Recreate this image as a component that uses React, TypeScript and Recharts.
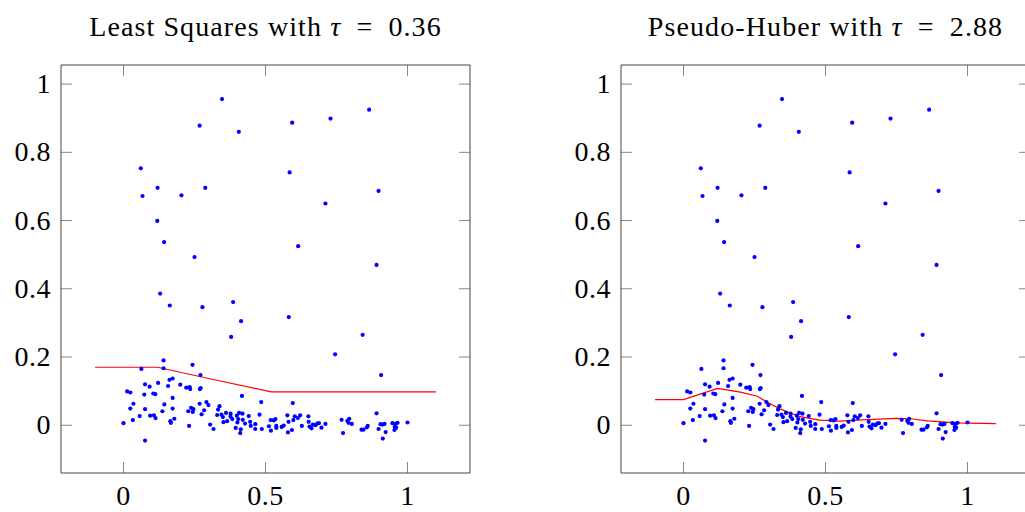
import React from 'react';
import { ScatterChart, Scatter, XAxis, YAxis, ReferenceLine } from 'recharts';

// observed samples (same in both panels)
const samplePoints: [number, number][] = [
  [0.347, 0.956], [0.268, 0.878], [0.406, 0.86], [0.061, 0.753], [0.585, 0.741],
  [0.12, 0.696], [0.067, 0.672], [0.204, 0.674], [0.288, 0.696], [0.119, 0.599],
  [0.594, 0.887], [0.729, 0.899], [0.865, 0.925], [0.898, 0.687], [0.711, 0.65],
  [0.143, 0.537], [0.25, 0.493], [0.129, 0.386], [0.163, 0.351], [0.278, 0.346],
  [0.386, 0.361], [0.414, 0.305], [0.582, 0.317], [0.379, 0.259], [0.615, 0.525],
  [0.891, 0.47], [0.842, 0.265], [0.745, 0.208], [0.907, 0.147],
  [0.141, 0.19], [0.243, 0.177], [0.063, 0.165], [0.141, 0.167], [0.271, 0.147],
  [0.076, 0.12], [0.092, 0.113], [0.122, 0.124], [0.162, 0.133], [0.173, 0.137],
  [0.157, 0.115], [0.2, 0.119], [0.221, 0.11], [0.233, 0.112], [0.235, 0.106],
  [0.272, 0.109], [0.269, 0.106], [0.013, 0.099], [0.024, 0.096], [0.073, 0.09],
  [0.105, 0.093], [0.112, 0.091], [0.173, 0.08], [0.035, 0.063], [0.024, 0.049],
  [0.076, 0.047], [0.144, 0.061], [0.173, 0.049], [0.137, 0.041], [0.292, 0.068],
  [0.299, 0.059], [0.268, 0.063], [0.238, 0.051], [0.246, 0.047], [0.228, 0.041],
  [0.284, 0.044], [0.244, 0.039], [0.275, 0.032], [0.057, 0.027], [0.094, 0.028],
  [0.107, 0.029], [0.113, 0.021], [0.033, 0.015], [0.165, 0.012], [0.179, 0.019],
  [0.167, 0.007], [0.0, 0.006], [0.231, -0.002], [0.305, 0.002], [0.317, -0.011],
  [0.076, -0.045],
  [0.417, 0.086], [0.485, 0.068], [0.596, 0.065], [0.338, 0.056], [0.333, 0.046],
  [0.33, 0.03], [0.345, 0.031], [0.35, 0.024], [0.361, 0.036], [0.377, 0.034],
  [0.377, 0.025], [0.365, 0.012], [0.352, 0.009], [0.383, 0.018], [0.399, 0.028],
  [0.407, 0.036], [0.419, 0.034], [0.404, 0.018], [0.42, 0.016], [0.401, 0.008],
  [0.395, -0.008], [0.413, -0.012], [0.411, -0.023], [0.428, 0.005], [0.441, 0.027],
  [0.446, 0.01], [0.448, -0.002], [0.464, 0.003], [0.464, -0.011], [0.479, 0.031],
  [0.487, -0.011], [0.512, -0.003], [0.518, 0.015], [0.529, 0.014], [0.535, 0.018],
  [0.538, -0.002], [0.519, -0.016], [0.538, -0.008], [0.557, -0.005], [0.564, -0.001],
  [0.577, 0.029], [0.581, 0.01], [0.579, -0.021], [0.593, -0.014], [0.598, 0.015],
  [0.603, 0.026], [0.614, 0.021], [0.622, 0.029], [0.628, -0.002], [0.651, 0.026],
  [0.652, 0.01], [0.655, -0.004], [0.662, -0.009], [0.667, 0.002], [0.676, 0.0],
  [0.682, 0.005], [0.688, 0.006], [0.697, -0.007], [0.711, 0.004],
  [0.891, 0.035], [0.768, 0.016], [0.788, 0.013], [0.795, 0.019], [0.792, 0.007],
  [0.804, 0.004], [0.773, -0.023], [0.838, -0.013], [0.845, -0.013], [0.857, -0.006],
  [0.86, -0.002], [0.898, -0.011], [0.905, 0.003], [0.912, 0.002], [0.919, 0.004],
  [0.923, -0.02], [0.913, -0.039], [0.947, 0.006], [0.958, 0.004], [0.965, 0.007],
  [0.955, -0.005], [0.954, -0.014], [0.96, -0.007], [1.0, 0.008],
];

// fitted curves
const leastSquaresX = [-0.1, 0.0, 0.12, 0.3, 0.52, 0.8, 1.1];
const leastSquaresY = [0.17, 0.17, 0.17, 0.137, 0.098, 0.098, 0.098];

const pseudoHuberX = [-0.1, 0.0, 0.12, 0.2, 0.26, 0.3, 0.34, 0.41, 0.48, 0.55, 0.63, 0.75, 0.8, 0.86, 0.96, 1.1];
const pseudoHuberY = [0.075, 0.075, 0.108, 0.097, 0.085, 0.065, 0.048, 0.025, 0.015, 0.012, 0.016, 0.02, 0.019, 0.013, 0.007, 0.005];

const xTicks = [0, 0.5, 1];
const yTicks = [0, 0.2, 0.4, 0.6, 0.8, 1];

const X_DOMAIN: [number, number] = [-0.22, 1.22];
const Y_DOMAIN: [number, number] = [-0.14, 1.056];
const PLOT_W = 409;
const PLOT_H = 408;

const FONT = '"Liberation Serif", "DejaVu Serif", serif';
const TICK_LEN = 11;
const TICK_COLOR = '#888';
// tick length expressed in axis units
const xTickLen = (TICK_LEN * (Y_DOMAIN[1] - Y_DOMAIN[0])) / PLOT_H;
const yTickLen = (TICK_LEN * (X_DOMAIN[1] - X_DOMAIN[0])) / PLOT_W;

const points = samplePoints.map(([x, y]) => ({ x, y }));
const toRows = (xs: number[], ys: number[]) => xs.map((x, i) => ({ x, y: ys[i] }));

const Dot = (props: any) => <circle cx={props.cx} cy={props.cy} r={2.1} fill="#0000ff" />;
const NoDot = () => <g />;

const BottomLabel = ({ x, y, payload }: any) => (
  <text x={x} y={y + 32} textAnchor="middle" fontSize={28} fontFamily={FONT} fill="#000" letterSpacing={0.5}>
    {payload.value}
  </text>
);
const LeftLabel = ({ x, y, payload }: any) => (
  <text x={x - 10} y={y + 9} textAnchor="end" fontSize={28} fontFamily={FONT} fill="#000" letterSpacing={0.5}>
    {payload.value}
  </text>
);

interface PanelProps {
  left: number;
  title: React.ReactNode;
  fit: { x: number; y: number }[];
}

const Panel: React.FC<PanelProps> = ({ left, title, fit }) => (
  <div style={{ position: 'absolute', left, top: 0 }}>
    <div
      style={{
        position: 'absolute', left: 61, width: PLOT_W, top: 13, textAlign: 'center',
        fontFamily: FONT, fontSize: 28, lineHeight: 1, whiteSpace: 'nowrap', color: '#000',
        letterSpacing: 1.1,
      }}
    >
      {title}
    </div>
    <ScatterChart width={480} height={512} margin={{ top: 64, right: 9, bottom: 0, left: 0 }}>
      <XAxis xAxisId="b" type="number" dataKey="x" domain={X_DOMAIN} ticks={xTicks}
        orientation="bottom" height={39} tickSize={0} tickMargin={0} tickLine={false}
        tick={BottomLabel} stroke="#444" />
      <XAxis xAxisId="t" type="number" dataKey="x" domain={X_DOMAIN} ticks={xTicks}
        orientation="top" height={1} tickLine={false} tick={false} stroke="#444" />
      <YAxis yAxisId="l" type="number" dataKey="y" domain={Y_DOMAIN} ticks={yTicks}
        width={61} tickSize={0} tickMargin={0} tickLine={false}
        tick={LeftLabel} stroke="#444" />
      <YAxis yAxisId="r" type="number" dataKey="y" domain={Y_DOMAIN} ticks={yTicks}
        orientation="right" width={1} tickLine={false} tick={false} stroke="#444" />
      {xTicks.map((t) => (
        <ReferenceLine key={`xb${t}`} xAxisId="b" yAxisId="l" stroke={TICK_COLOR}
          segment={[{ x: t, y: Y_DOMAIN[0] }, { x: t, y: Y_DOMAIN[0] + xTickLen }]} />
      ))}
      {xTicks.map((t) => (
        <ReferenceLine key={`xt${t}`} xAxisId="b" yAxisId="l" stroke={TICK_COLOR}
          segment={[{ x: t, y: Y_DOMAIN[1] }, { x: t, y: Y_DOMAIN[1] - xTickLen }]} />
      ))}
      {yTicks.map((t) => (
        <ReferenceLine key={`yl${t}`} xAxisId="b" yAxisId="l" stroke={TICK_COLOR}
          segment={[{ x: X_DOMAIN[0], y: t }, { x: X_DOMAIN[0] + yTickLen, y: t }]} />
      ))}
      {yTicks.map((t) => (
        <ReferenceLine key={`yr${t}`} xAxisId="b" yAxisId="l" stroke={TICK_COLOR}
          segment={[{ x: X_DOMAIN[1], y: t }, { x: X_DOMAIN[1] - yTickLen, y: t }]} />
      ))}
      <Scatter xAxisId="b" yAxisId="l" data={fit} line={{ stroke: '#ff0000', strokeWidth: 1.2 }}
        shape={NoDot} isAnimationActive={false} />
      <Scatter xAxisId="b" yAxisId="l" data={points} shape={Dot} isAnimationActive={false} />
    </ScatterChart>
  </div>
);

export default function App() {
  return (
    <div style={{ position: 'fixed', left: 0, top: 0, width: 1025, height: 512, overflow: 'hidden', background: '#fff' }}>
      <Panel left={0} fit={toRows(leastSquaresX, leastSquaresY)}
        title={<>Least Squares with <i>τ</i>{'\u2002=\u2002'}0.36</>} />
      <Panel left={560} fit={toRows(pseudoHuberX, pseudoHuberY)}
        title={<>Pseudo-Huber with <i>τ</i>{'\u2002=\u2002'}2.88</>} />
    </div>
  );
}
